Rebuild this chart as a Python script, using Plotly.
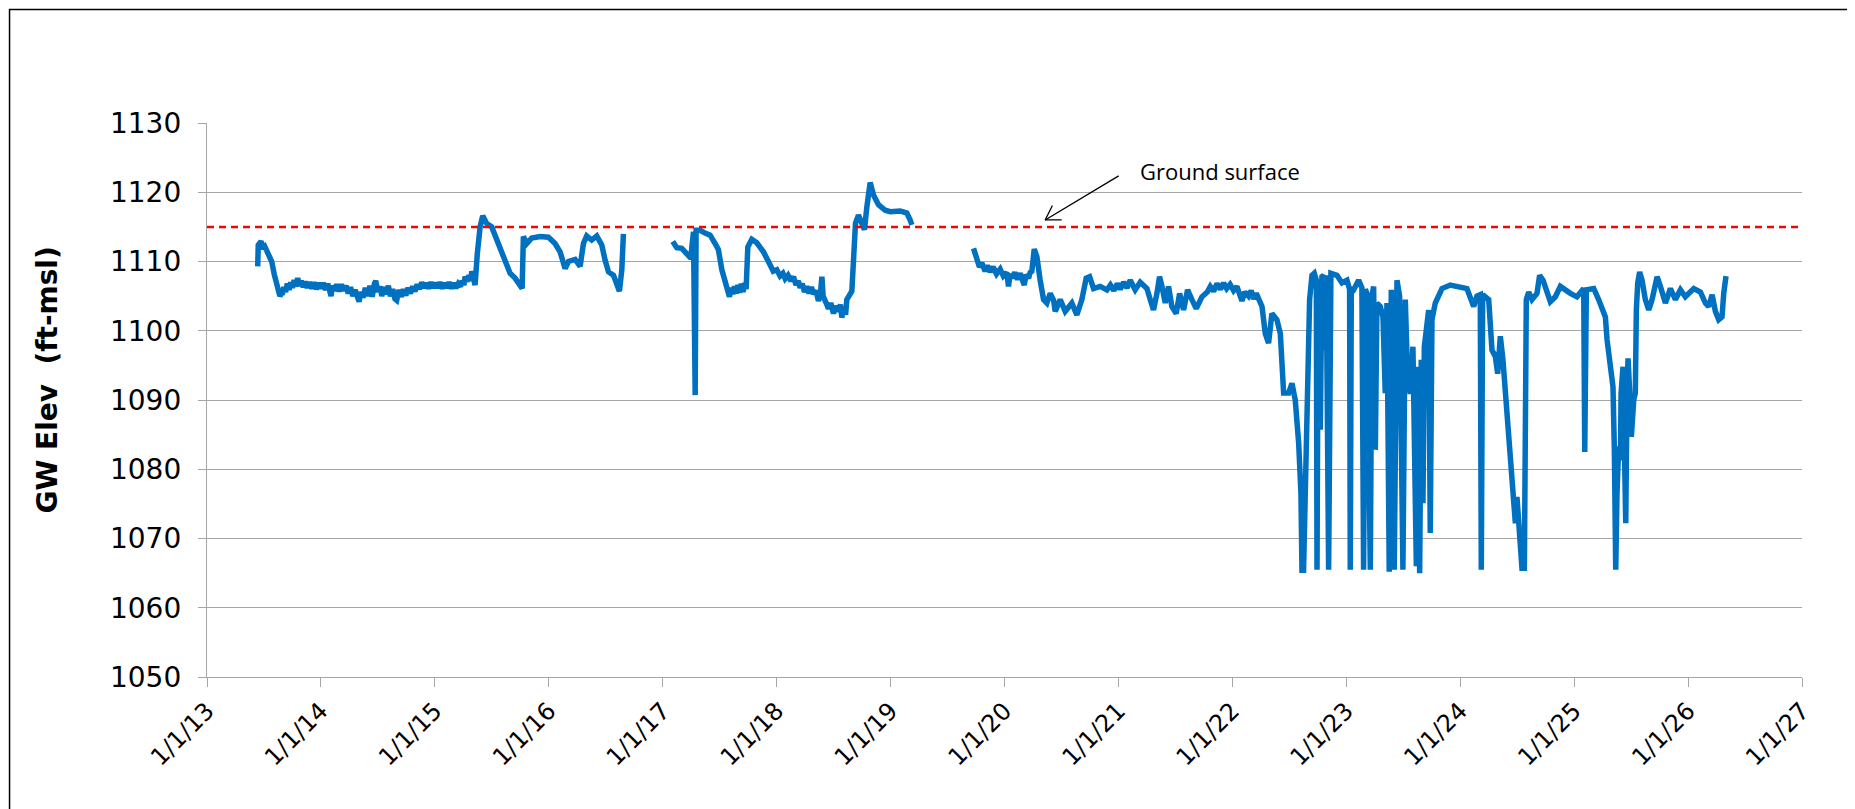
import plotly.graph_objects as go

# groundwater elevation (decimal year, ft-msl)
years_2013_2016 = [
    2013.445, 2013.450, 2013.474, 2013.495, 2013.509, 2013.530, 2013.544, 2013.568, 2013.591, 2013.620,
    2013.640, 2013.655, 2013.660, 2013.675, 2013.690, 2013.705, 2013.720, 2013.735, 2013.750, 2013.765,
    2013.780, 2013.796, 2013.812, 2013.828, 2013.845, 2013.862, 2013.880, 2013.900, 2013.920, 2013.940,
    2013.960, 2013.980, 2014.000, 2014.020, 2014.040, 2014.060, 2014.080, 2014.089, 2014.100, 2014.120,
    2014.140, 2014.160, 2014.180, 2014.200, 2014.220, 2014.240, 2014.260, 2014.280, 2014.300, 2014.320,
    2014.335, 2014.350, 2014.370, 2014.390, 2014.410, 2014.430, 2014.450, 2014.470, 2014.481, 2014.500,
    2014.520, 2014.534, 2014.550, 2014.570, 2014.592, 2014.610, 2014.630, 2014.650, 2014.665, 2014.685,
    2014.705, 2014.724, 2014.745, 2014.765, 2014.785, 2014.805, 2014.825, 2014.845, 2014.865, 2014.885,
    2014.905, 2014.925, 2014.945, 2014.965, 2014.985, 2015.005, 2015.025, 2015.045, 2015.065, 2015.085,
    2015.105, 2015.125, 2015.145, 2015.165, 2015.185, 2015.205, 2015.225, 2015.240, 2015.255, 2015.265,
    2015.285, 2015.300, 2015.315, 2015.324, 2015.340, 2015.353, 2015.373, 2015.397, 2015.420, 2015.440,
    2015.455, 2015.499, 2015.528, 2015.572, 2015.616, 2015.660, 2015.704, 2015.748, 2015.766, 2015.777,
    2015.807, 2015.850, 2015.924, 2015.997, 2016.055, 2016.099, 2016.143, 2016.173, 2016.231, 2016.275,
    2016.304, 2016.333, 2016.377, 2016.421, 2016.465, 2016.494, 2016.524, 2016.568, 2016.597, 2016.620,
    2016.641, 2016.655,
]
gw_2013_2016 = [
    1109.3, 1112.4, 1112.9, 1111.8, 1112.1, 1111.3, 1111.2, 1110.0, 1108.1, 1106.1,
    1105.0, 1105.4, 1105.2, 1106.3, 1105.6, 1106.8, 1105.9, 1107.0, 1106.2, 1107.3,
    1106.4, 1107.6, 1106.5, 1107.2, 1106.3, 1107.1, 1106.2, 1107.0, 1106.1, 1107.0,
    1106.0, 1106.9, 1106.1, 1106.9, 1105.9, 1106.8, 1105.8, 1105.0, 1106.5, 1105.8,
    1106.7, 1105.7, 1106.7, 1105.8, 1106.5, 1105.4, 1106.3, 1105.0, 1105.9, 1104.4,
    1104.2, 1105.6, 1104.8, 1106.2, 1105.0, 1106.5, 1104.9, 1106.8, 1107.2, 1105.6,
    1106.4, 1105.0, 1106.3, 1105.3, 1106.5, 1105.0, 1106.0, 1104.6, 1104.4, 1105.9,
    1104.9, 1106.0, 1105.1, 1106.2, 1105.4, 1106.4, 1105.7, 1106.7, 1106.0, 1107.0,
    1106.2, 1106.9, 1106.1, 1107.0, 1106.2, 1106.9, 1106.2, 1107.0, 1106.1, 1106.9,
    1106.2, 1107.0, 1106.1, 1106.9, 1106.2, 1106.8, 1106.4, 1107.2, 1106.6, 1107.8,
    1107.1, 1108.0, 1107.2, 1108.6, 1107.0, 1106.6, 1111.2, 1115.0, 1116.6, 1115.8,
    1115.5, 1115.0, 1113.8, 1111.7, 1109.7, 1108.3, 1107.6, 1106.6, 1106.1, 1113.6,
    1112.6, 1113.4, 1113.6, 1113.5, 1112.6, 1111.4, 1109.0, 1110.0, 1110.3, 1109.3,
    1112.6, 1113.7, 1113.1, 1113.7, 1112.4, 1110.2, 1108.5, 1108.0, 1106.9, 1105.7,
    1108.8, 1114.0,
]

years_2017_2019 = [
    2017.088, 2017.124, 2017.167, 2017.211, 2017.246, 2017.270, 2017.285, 2017.293, 2017.328, 2017.372,
    2017.416, 2017.460, 2017.489, 2017.519, 2017.548, 2017.570, 2017.586, 2017.600, 2017.615, 2017.630,
    2017.645, 2017.660, 2017.675, 2017.690, 2017.705, 2017.720, 2017.732, 2017.747, 2017.782, 2017.826,
    2017.884, 2017.943, 2017.970, 2018.001, 2018.030, 2018.055, 2018.075, 2018.100, 2018.125, 2018.148,
    2018.170, 2018.190, 2018.206, 2018.225, 2018.245, 2018.265, 2018.285, 2018.305, 2018.323, 2018.345,
    2018.367, 2018.385, 2018.397, 2018.408, 2018.417, 2018.435, 2018.455, 2018.475, 2018.499, 2018.520,
    2018.543, 2018.560, 2018.572, 2018.590, 2018.605, 2018.616, 2018.660, 2018.675, 2018.692, 2018.718,
    2018.748, 2018.771, 2018.792, 2018.821, 2018.850, 2018.894, 2018.953, 2018.997, 2019.084, 2019.143,
    2019.172, 2019.187,
]
gw_2017_2019 = [
    1112.9, 1112.0, 1111.9, 1111.2, 1110.5, 1114.3, 1090.7, 1114.5, 1114.5, 1114.1,
    1113.8, 1112.6, 1111.7, 1108.8, 1106.9, 1105.6, 1104.9, 1106.2, 1105.3, 1106.4,
    1105.4, 1106.6, 1105.5, 1106.8, 1105.6, 1106.9, 1106.0, 1112.1, 1113.2, 1112.7,
    1111.4, 1109.5, 1108.6, 1108.8, 1107.9, 1108.3, 1107.5, 1108.0, 1107.2, 1107.8,
    1106.6, 1107.2, 1106.2, 1106.8, 1105.6, 1106.4, 1105.4, 1106.3, 1105.3, 1105.8,
    1104.3, 1105.5, 1107.8, 1105.0, 1104.4, 1104.0, 1103.2, 1104.0, 1102.5, 1103.6,
    1102.8, 1103.8, 1101.9, 1103.2, 1102.3, 1104.5, 1105.7, 1110.2, 1115.5, 1116.7,
    1115.3, 1114.6, 1117.9, 1121.4, 1119.6, 1118.2, 1117.4, 1117.2, 1117.3, 1117.0,
    1116.0, 1115.3,
]

years_2019_2026 = [
    2019.728, 2019.757, 2019.780, 2019.801, 2019.830, 2019.850, 2019.874, 2019.900, 2019.930, 2019.962,
    2019.990, 2020.021, 2020.035, 2020.050, 2020.065, 2020.090, 2020.115, 2020.138, 2020.155, 2020.173,
    2020.190, 2020.211, 2020.225, 2020.240, 2020.261, 2020.284, 2020.313, 2020.343, 2020.372, 2020.401,
    2020.431, 2020.445, 2020.489, 2020.533, 2020.591, 2020.635, 2020.679, 2020.717, 2020.747, 2020.782,
    2020.840, 2020.899, 2020.930, 2020.960, 2020.990, 2021.016, 2021.045, 2021.075, 2021.104, 2021.147,
    2021.191, 2021.250, 2021.279, 2021.308, 2021.338, 2021.361, 2021.382, 2021.411, 2021.440, 2021.469,
    2021.507, 2021.537, 2021.572, 2021.607, 2021.645, 2021.683, 2021.733, 2021.780, 2021.806, 2021.835,
    2021.865, 2021.895, 2021.923, 2021.950, 2021.980, 2022.011, 2022.040, 2022.065, 2022.084, 2022.110,
    2022.142, 2022.165, 2022.186, 2022.210, 2022.230, 2022.260, 2022.289, 2022.318, 2022.347, 2022.391,
    2022.421, 2022.450, 2022.494, 2022.523, 2022.552, 2022.582, 2022.602, 2022.611,
    2022.625, 2022.640, 2022.661, 2022.678, 2022.699, 2022.719, 2022.737, 2022.743, 2022.754, 2022.772,
    2022.786, 2022.800, 2022.807, 2022.824, 2022.845, 2022.865, 2022.918, 2022.962, 2023.006, 2023.029,
    2023.035, 2023.044, 2023.064, 2023.108, 2023.137, 2023.152, 2023.167, 2023.181, 2023.211, 2023.225,
    2023.240, 2023.255, 2023.269, 2023.298, 2023.322, 2023.342, 2023.357, 2023.377, 2023.395, 2023.421,
    2023.445, 2023.468, 2023.497, 2023.518, 2023.538, 2023.562, 2023.585, 2023.600, 2023.615, 2023.629,
    2023.644, 2023.658, 2023.673, 2023.685, 2023.708, 2023.723, 2023.737, 2023.752, 2023.781, 2023.840,
    2023.913, 2024.001, 2024.059, 2024.118, 2024.147, 2024.176, 2024.185, 2024.197, 2024.250, 2024.279,
    2024.308, 2024.329, 2024.352, 2024.375, 2024.411, 2024.440, 2024.463, 2024.484, 2024.498, 2024.522,
    2024.542, 2024.563, 2024.572, 2024.580, 2024.601, 2024.630, 2024.674, 2024.697, 2024.727, 2024.762,
    2024.791, 2024.835, 2024.879, 2024.967, 2025.025, 2025.084, 2025.093, 2025.107, 2025.172, 2025.215,
    2025.245, 2025.274, 2025.289, 2025.312, 2025.341, 2025.353, 2025.365, 2025.376, 2025.391, 2025.406,
    2025.412, 2025.429, 2025.441, 2025.453, 2025.464, 2025.473, 2025.488, 2025.502, 2025.523, 2025.537,
    2025.546, 2025.558, 2025.575, 2025.596, 2025.625, 2025.655, 2025.684, 2025.728, 2025.757, 2025.801,
    2025.845, 2025.889, 2025.933, 2025.976, 2026.050, 2026.108, 2026.152, 2026.181, 2026.211, 2026.240,
    2026.269, 2026.298, 2026.313, 2026.333,
]
gw_2019_2026 = [
    1111.9, 1110.5, 1109.2, 1109.8, 1108.6, 1109.4, 1108.5, 1109.2, 1108.2, 1108.9,
    1107.9, 1108.4, 1106.4, 1108.2, 1107.6, 1108.4, 1107.4, 1108.3, 1107.5, 1106.6,
    1108.1, 1107.6, 1108.4, 1108.6, 1111.8, 1110.7, 1107.3, 1104.5, 1104.0, 1105.4,
    1104.4, 1102.8, 1104.5, 1102.8, 1104.0, 1102.3, 1104.5, 1107.6, 1107.8, 1106.1,
    1106.4, 1105.9, 1106.6, 1105.8, 1106.8, 1106.0, 1107.0, 1106.2, 1107.3, 1105.9,
    1107.0, 1106.1, 1104.5, 1103.0, 1105.4, 1107.8, 1106.4, 1104.0, 1106.4, 1103.5,
    1102.5, 1105.4, 1103.0, 1105.9, 1104.5, 1103.2, 1104.9, 1105.6, 1106.4, 1105.7,
    1106.8, 1106.0, 1106.9, 1106.1, 1106.7, 1105.8, 1106.4, 1105.0, 1104.3, 1105.6,
    1105.0, 1105.8, 1104.6, 1105.4, 1104.7, 1103.5, 1099.6, 1098.2, 1102.5, 1101.6,
    1099.6, 1091.0, 1091.0, 1092.4, 1090.0, 1083.8, 1076.5, 1065.4,
    1065.4, 1076.5, 1091.0, 1104.5, 1108.0, 1108.3, 1107.3, 1065.5, 1107.3, 1085.7,
    1107.8, 1108.0, 1097.2, 1108.0, 1065.5, 1108.3, 1108.0, 1106.9, 1107.3, 1106.0,
    1065.5, 1106.0, 1105.9, 1107.3, 1106.2, 1065.5, 1106.0, 1105.4, 1065.5, 1105.0,
    1106.4, 1082.8, 1104.0, 1103.5, 1102.0, 1091.0, 1104.0, 1065.2, 1105.9, 1065.5,
    1107.3, 1105.0, 1065.5, 1104.5, 1093.4, 1090.9, 1097.7, 1076.5, 1066.0, 1094.8,
    1065.0, 1095.8, 1075.1, 1097.7, 1101.1, 1103.0, 1070.8, 1101.6, 1104.0, 1106.1,
    1106.6, 1106.4, 1106.1, 1103.5, 1105.0, 1105.2, 1065.5, 1105.2, 1104.5, 1097.2,
    1096.3, 1093.8, 1099.2, 1095.8, 1088.1, 1081.3, 1075.6, 1072.2, 1076.0, 1070.8,
    1065.7, 1065.7, 1091.0, 1104.5, 1105.6, 1104.5, 1105.4, 1108.0, 1107.3, 1105.6,
    1104.2, 1104.9, 1106.4, 1105.4, 1104.9, 1106.1, 1082.5, 1105.9, 1106.1, 1104.5,
    1103.0, 1102.0, 1098.7, 1094.8, 1091.9, 1082.8, 1065.5, 1076.5, 1083.3, 1081.3,
    1091.0, 1094.8, 1081.3, 1072.2, 1091.0, 1096.0, 1091.0, 1084.7, 1090.0, 1091.0,
    1103.0, 1106.9, 1108.5, 1107.3, 1104.5, 1103.0, 1104.5, 1107.8, 1106.4, 1104.0,
    1106.1, 1104.5, 1105.9, 1104.9, 1106.1, 1105.6, 1104.0, 1103.5, 1105.2, 1102.8,
    1101.6, 1102.0, 1105.4, 1107.9,
]

ground_surface = 1115
tick_years = list(range(2013, 2028))
tick_labels = [f"1/1/{y % 100:02d}" for y in tick_years]

GRID = "#a6a6a6"
BLUE = "#0070c0"

segments = [
    (years_2013_2016, gw_2013_2016),
    (years_2017_2019, gw_2017_2019),
    (years_2019_2026, gw_2019_2026),
]
for yrs, vals in segments:
    assert len(yrs) == len(vals), (len(yrs), len(vals))

fig = go.Figure()

for yrs, vals in segments:
    fig.add_scatter(x=yrs, y=vals, mode="lines", line=dict(color=BLUE, width=5.5), showlegend=False, hoverinfo="skip")

# ground surface reference
fig.add_hline(y=ground_surface, line=dict(color="#ff0000", width=2.5, dash="7px,5px"))

# pointer: shaft plus two thin arms making an open arrowhead
arrow_tip = dict(x=2020.357, y=1116.0)
for ax, ay in [(75, -45), (8, -16), (18, 0)]:
    fig.add_annotation(
        **arrow_tip, ax=ax, ay=ay, text="", showarrow=True,
        arrowhead=0, arrowwidth=1.3, arrowcolor="black", standoff=0, startstandoff=0,
    )
fig.add_annotation(
    x=2021.894, y=1123.1, text="Ground surface", showarrow=False,
    font=dict(family="Open Sans", size=22, color="black"),
)
fig.add_annotation(
    x=-0.1, y=0.536, xref="paper", yref="paper", text="<b>GW Elev  (ft-msl)</b>",
    textangle=-90, showarrow=False, xanchor="center", yanchor="middle",
    font=dict(family="DejaVu Sans", size=28, color="black"),
)

# chart frame
fig.add_shape(
    type="rect", xref="paper", yref="paper", x0=-0.1238, x1=1.0288, y0=-0.27, y1=1.2049,
    line=dict(color="black", width=1.5), layer="below",
)

fig.update_xaxes(
    range=[2013, 2027], tickvals=tick_years, ticktext=tick_labels, tickangle=-45,
    showgrid=False, zeroline=False, showline=True, linecolor=GRID, linewidth=1.3,
    ticks="outside", ticklen=9, tickcolor=GRID, tickwidth=1.3,
    tickfont=dict(family="DejaVu Sans", size=24, color="black"),
)
fig.update_yaxes(
    range=[1050, 1130], dtick=10, showgrid=True, gridcolor=GRID, gridwidth=1.3,
    zeroline=False, showline=True, linecolor=GRID, linewidth=1.3,
    ticks="outside", ticklen=8, tickcolor=GRID, tickwidth=1.3, ticklabelstandoff=11,
    tickfont=dict(family="DejaVu Sans", size=28, color="black"),
)

# the page body adds 8px, so the plot box is pulled back by that much
fig.update_layout(
    width=1855, height=809, autosize=False,
    margin=dict(l=199, r=61, t=115, b=140),
    plot_bgcolor="white", paper_bgcolor="white",
)

fig.write_html("out.html")
